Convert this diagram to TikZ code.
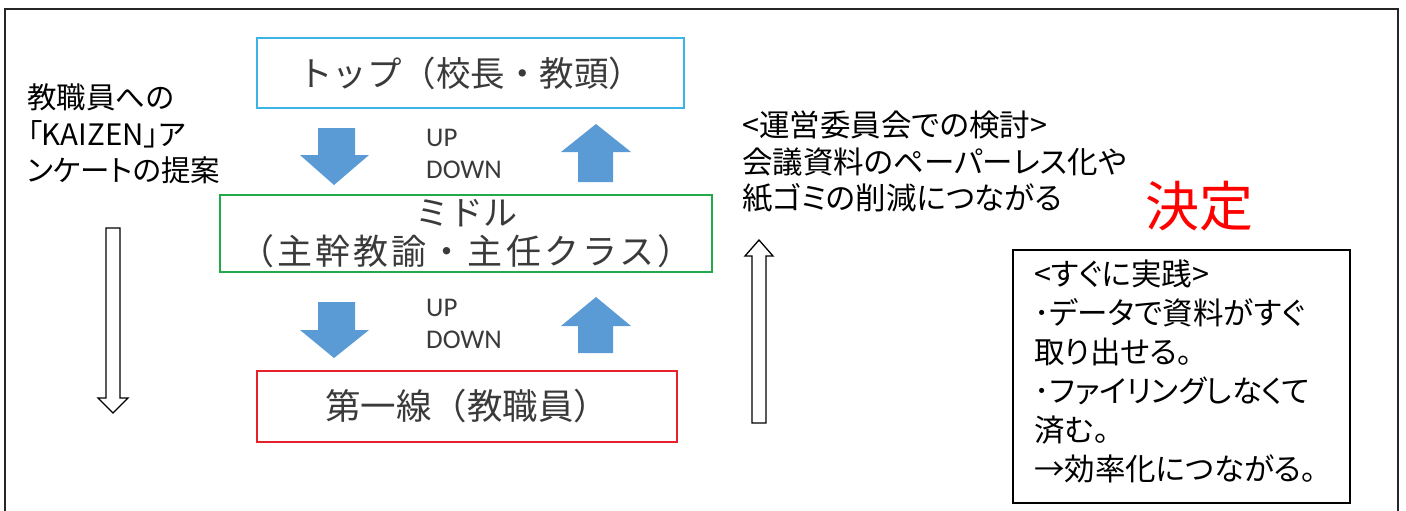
\documentclass[tikz,border=0pt]{standalone}
\usepackage{fontspec}
\setmainfont{Noto Sans CJK JP}[RawFeature=+palt]
\newfontfamily\boxfont{Noto Sans CJK JP}
\newfontfamily\latinsans{Carlito}
\definecolor{topc}{HTML}{3CB4E6}
\definecolor{midc}{HTML}{22AA4A}
\definecolor{botc}{HTML}{E8202A}
\definecolor{arrowblue}{HTML}{5B9BD5}
\definecolor{boxtext}{HTML}{3A3A3A}
\begin{document}
\begin{tikzpicture}[x=1pt,y=-1pt,
  levelbox/.style={draw, line width=1.6pt, inner sep=0pt, text=boxtext, align=center},
  blockarrow/.style={fill=arrowblue},
  hollowarrow/.style={draw=black, fill=white, line width=1.3pt, line join=miter},
  plain/.style={inner sep=0pt, anchor=north west, align=left, text=black},
  updown/.style={inner sep=0pt, anchor=west, text=boxtext, font=\latinsans\fontsize{27}{30}\selectfont}
]
\useasboundingbox (0,0) rectangle (1406,511);
% outer frame
\draw[line width=2.5pt, color=black!85] (5,520) -- (5,9) -- (1398,9) -- (1398,520);

% level boxes
\node[levelbox, draw=topc, minimum width=427pt, minimum height=70pt, font=\boxfont\fontsize{34.5}{40}\selectfont] (top) at (470.5,73) {トップ（校長・教頭）};
\node[levelbox, draw=midc, minimum width=492pt, minimum height=77pt, font=\boxfont\fontsize{34}{39}\selectfont] (mid) at (466,233.5) {ミドル\\{\fontsize{35}{39}\selectfont\addfontfeature{LetterSpace=9}（主幹教諭・主任クラス）}};
\node[levelbox, draw=botc, minimum width=420pt, minimum height=71pt, font=\boxfont\fontsize{35.5}{40}\selectfont] (bot) at (467,406.5) {第一線（教職員）};

% blue block arrows
\fill[blockarrow] (318,128) -- (355,128) -- (355,155) -- (369,155) -- (334,185) -- (300,155) -- (318,155) -- cycle;
\fill[blockarrow] (596,124) -- (631,152) -- (613,152) -- (613,182) -- (578,182) -- (578,152) -- (561,152) -- cycle;
\fill[blockarrow] (318,302) -- (355,302) -- (355,330) -- (369,330) -- (334,358) -- (300,330) -- (318,330) -- cycle;
\fill[blockarrow] (596,297) -- (631,326) -- (613,326) -- (613,353) -- (578,353) -- (578,326) -- (561,326) -- cycle;

\node[updown] (up1) at (426,138) {UP};
\node[updown] (down1) at (426,170) {DOWN};
\node[updown] (up2) at (426,308) {UP};
\node[updown] (down2) at (426,340) {DOWN};

% left text and hollow arrow
\node[plain, font=\fontsize{29.5}{36.5}\selectfont] (left) at (27,84) {教職員への\\「KAIZEN」ア\\ンケートの提案};
\draw[hollowarrow] (106,228) -- (120,228) -- (120,398) -- (128,398) -- (113,413) -- (98,398) -- (106,398) -- cycle;

% right text and hollow arrow
\node[plain, font=\fontsize{30.5}{36.5}\selectfont] (right) at (742,111) {<運営委員会での検討>\\会議資料のペーパーレス化や\\紙ゴミの削減につながる};
\draw[hollowarrow] (752,423) -- (766,423) -- (766,256) -- (773,256) -- (759,240) -- (745,256) -- (752,256) -- cycle;

\node[inner sep=0pt, text={rgb,255:red,255;green,0;blue,0}, font=\fontsize{54}{58}\selectfont] (kettei) at (1199,206) {決定};

% practice box
\draw[line width=1.3pt] (1013,250) rectangle (1350,503);
\node[plain, font=\fontsize{30.5}{39}\selectfont] (practice) at (1034,260) {<すぐに実践>\\･データで資料がすぐ\\取り出せる。\\･ファイリングしなくて\\済む。\\→効率化につながる。};
\end{tikzpicture}
\end{document}
